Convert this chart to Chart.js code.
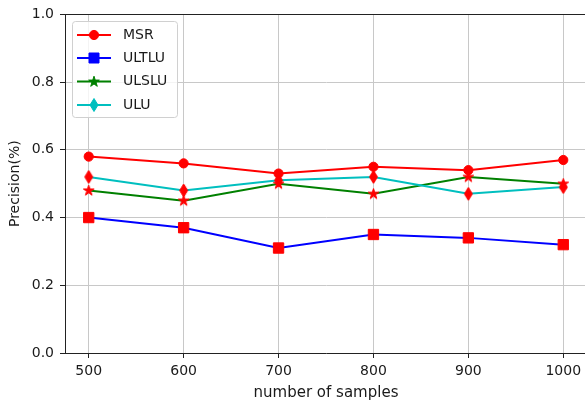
<!DOCTYPE html>
<html>
<head>
<meta charset="utf-8">
<script src="https://cdn.jsdelivr.net/npm/chart.js@4/dist/chart.umd.min.js"></script>
<style>
html,body{margin:0;padding:0;background:#fff;overflow:hidden;}
#wrap{width:585px;height:404px;overflow:hidden;position:relative;}
canvas{display:block;}
</style>
</head>
<body>
<div id="wrap"><canvas id="c" width="600" height="404"></canvas></div>
<script>
// ---- data ----
const samples = [500, 600, 700, 800, 900, 1000];
const msr   = [0.58, 0.56, 0.53, 0.55, 0.54, 0.57];
const ultlu = [0.40, 0.37, 0.31, 0.35, 0.34, 0.32];
const ulslu = [0.48, 0.45, 0.50, 0.47, 0.52, 0.50];
const ulu   = [0.52, 0.48, 0.51, 0.52, 0.47, 0.49];
const seriesNames = ['MSR', 'ULTLU', 'ULSLU', 'ULU'];
const xTicks = [500, 600, 700, 800, 900, 1000];
const yTicks = [0.0, 0.2, 0.4, 0.6, 0.8, 1.0];
const xLabel = 'number of samples';
const yLabel = 'Precision(%)';

const FONT = "'DejaVu Sans', sans-serif";
const TEXT = '#1a1a1a';
const colors = ['#ff0000', '#0000ff', '#008000', '#00bfbf'];
const markerRed = '#ff0000';

function starPath(ctx, cx, cy, R) {
  const r = R * 0.381966;
  ctx.beginPath();
  for (let i = 0; i < 10; i++) {
    const rad = (i % 2 === 0) ? R : r;
    const a = -Math.PI / 2 + i * Math.PI / 5;
    const x = cx + rad * Math.cos(a), y = cy + rad * Math.sin(a);
    if (i === 0) ctx.moveTo(x, y); else ctx.lineTo(x, y);
  }
  ctx.closePath();
}
function diamondPath(ctx, cx, cy, hw, hh) {
  ctx.beginPath();
  ctx.moveTo(cx, cy - hh);
  ctx.lineTo(cx + hw, cy);
  ctx.lineTo(cx, cy + hh);
  ctx.lineTo(cx - hw, cy);
  ctx.closePath();
}
function makeImg(w, h, drawFn, color) {
  const c = document.createElement('canvas');
  c.width = w; c.height = h;
  const x = c.getContext('2d');
  x.fillStyle = color; x.strokeStyle = color; x.lineWidth = 1;
  drawFn(x);
  x.fill(); x.stroke();
  return c;
}
const starImg = makeImg(13, 13, (x) => starPath(x, 6.5, 6.7, 5.6), markerRed);
const diamondImg = makeImg(11, 15, (x) => diamondPath(x, 5.5, 7.5, 4, 6.5), markerRed);

function pts(arr) { return samples.map((s, i) => ({x: s, y: arr[i]})); }

const seriesData = [msr, ultlu, ulslu, ulu];
const pointStyles = ['circle', 'rect', starImg, diamondImg];
const radii = [4.6, 7.3, 6, 7];

const datasets = seriesData.map((d, i) => ({
  label: seriesNames[i],
  data: pts(d),
  borderColor: colors[i],
  backgroundColor: colors[i],
  borderWidth: 2,
  pointStyle: pointStyles[i],
  pointRadius: radii[i],
  pointBackgroundColor: markerRed,
  pointBorderColor: markerRed,
  pointBorderWidth: 1,
  tension: 0,
  order: 4 - i
}));

const frame = {
  id: 'frame',
  afterDraw(chart) {
    const ctx = chart.ctx;
    const a = chart.chartArea;
    ctx.save();
    ctx.strokeStyle = '#222';
    ctx.lineWidth = 1;
    ctx.beginPath();
    ctx.moveTo(a.left, Math.round(a.top) + 0.5);
    ctx.lineTo(a.right, Math.round(a.top) + 0.5);
    ctx.moveTo(Math.round(a.right) + 0.5, a.top);
    ctx.lineTo(Math.round(a.right) + 0.5, a.bottom);
    ctx.stroke();

    // legend
    const bx = 72.5, by = 21.5, bw = 105, bh = 96, rr = 3;
    ctx.globalAlpha = 0.8;
    ctx.fillStyle = '#fff';
    ctx.beginPath();
    ctx.roundRect(bx, by, bw, bh, rr);
    ctx.fill();
    ctx.globalAlpha = 1;
    ctx.strokeStyle = '#d0d0d0';
    ctx.stroke();
    const ys = [35, 58, 81.5, 105];
    ctx.font = '14px ' + FONT;
    ctx.textBaseline = 'middle';
    ctx.textAlign = 'left';
    for (let i = 0; i < 4; i++) {
      const y = ys[i];
      ctx.strokeStyle = colors[i];
      ctx.lineWidth = 2;
      ctx.beginPath();
      ctx.moveTo(77, y); ctx.lineTo(111, y);
      ctx.stroke();
      ctx.fillStyle = colors[i];
      ctx.strokeStyle = colors[i];
      ctx.lineWidth = 1;
      if (i === 0) { ctx.beginPath(); ctx.arc(94, y, 4.6, 0, Math.PI * 2); ctx.fill(); ctx.stroke(); }
      else if (i === 1) { ctx.beginPath(); ctx.rect(94 - 5, y - 5, 10, 10); ctx.fill(); ctx.stroke(); }
      else if (i === 2) { starPath(ctx, 94, y + 0.3, 5.6); ctx.fill(); ctx.stroke(); }
      else { diamondPath(ctx, 94, y, 4, 6.5); ctx.fill(); ctx.stroke(); }
      ctx.fillStyle = TEXT;
      ctx.fillText(seriesNames[i], 123, y);
    }
    ctx.restore();
  }
};

new Chart(document.getElementById('c'), {
  type: 'line',
  data: { datasets },
  plugins: [frame],
  options: {
    responsive: false,
    animation: false,
    events: [],
    layout: { padding: { left: 0, top: 14, right: 13, bottom: 0 } },
    plugins: { legend: { display: false }, tooltip: { enabled: false } },
    scales: {
      x: {
        type: 'linear',
        min: 475, max: 1025,
        afterBuildTicks: (s) => { s.ticks = xTicks.map(v => ({value: v})); },
        afterFit: (s) => { s.height = 51; },
        ticks: { color: TEXT, font: { family: FONT, size: 14 }, padding: 5, maxRotation: 0, autoSkip: false,
                 callback: (v) => String(v) },
        grid: { color: '#c8c8c8', lineWidth: 1, tickColor: '#222', tickLength: 5 },
        border: { color: '#222', width: 1 },
        title: { display: true, text: xLabel, color: TEXT, font: { family: FONT, size: 15 }, padding: { top: 0, bottom: 2 } }
      },
      y: {
        type: 'linear',
        min: 0, max: 1,
        afterBuildTicks: (s) => { s.ticks = yTicks.map(v => ({value: v})); },
        afterFit: (s) => { s.width = 65; },
        ticks: { color: TEXT, font: { family: FONT, size: 14 }, padding: 6, autoSkip: false,
                 callback: (v) => Number(v).toFixed(1) },
        grid: { color: '#c8c8c8', lineWidth: 1, tickColor: '#222', tickLength: 5 },
        border: { color: '#222', width: 1 },
        title: { display: true, text: yLabel, color: TEXT, font: { family: FONT, size: 14 }, padding: { top: 7, bottom: 0 } }
      }
    }
  }
});
</script>
</body>
</html>
